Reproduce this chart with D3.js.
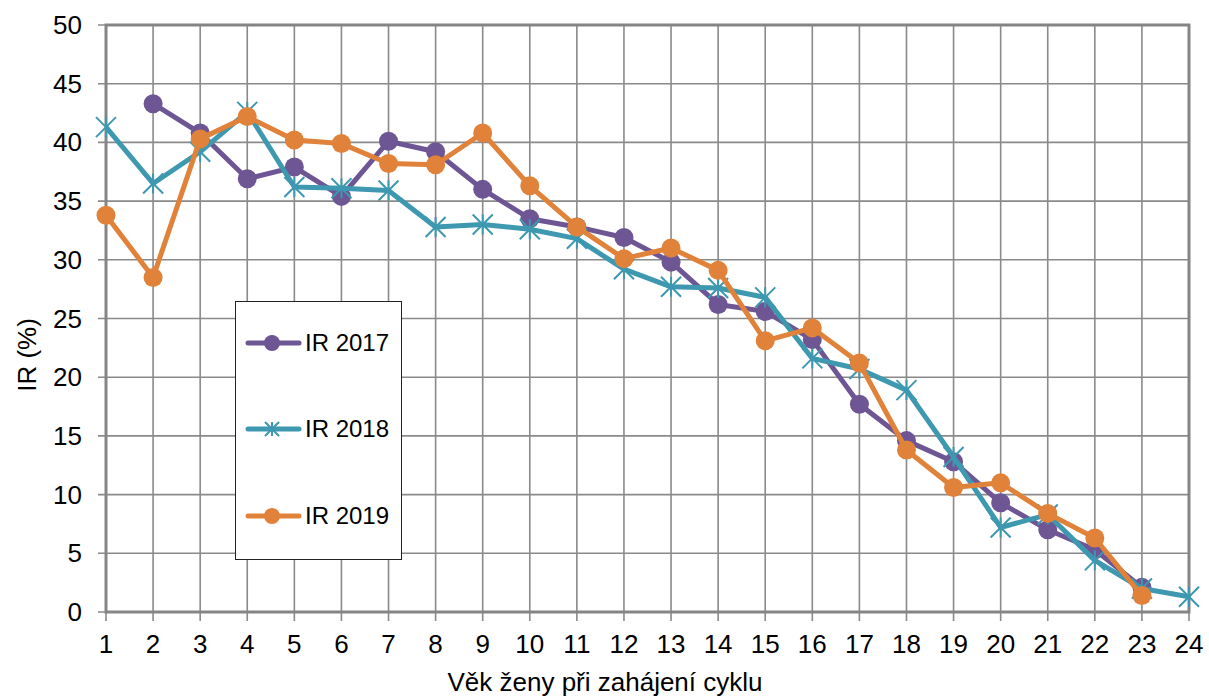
<!DOCTYPE html>
<html>
<head>
<meta charset="utf-8">
<script src="https://cdn.jsdelivr.net/npm/d3@7"></script>
<style>
body { margin: 0; background: #fff; }
text { font-family: "Liberation Sans", Arial, sans-serif; fill: #000; }
</style>
</head>
<body>
<div id="chart"></div>
<script>

// data
var ages = d3.range(1, 25)
var ir2017 = [null, 43.3, 40.8, 36.9, 37.9, 35.4, 40.1, 39.2, 36.0, 33.5, 32.8, 31.9, 29.8, 26.2, 25.6, 23.2, 17.7, 14.6, 12.8, 9.3, 7.0, 5.3, 2.1, null]
var ir2018 = [41.3, 36.5, 39.2, 42.6, 36.2, 36.1, 35.9, 32.8, 33.0, 32.6, 31.8, 29.2, 27.7, 27.6, 26.8, 21.6, 20.7, 18.9, 13.2, 7.2, 8.3, 4.4, 2.0, 1.3]
var ir2019 = [33.8, 28.5, 40.3, 42.2, 40.2, 39.9, 38.2, 38.1, 40.8, 36.3, 32.8, 30.1, 31.0, 29.1, 23.1, 24.2, 21.2, 13.8, 10.6, 11.0, 8.4, 6.3, 1.4, null]
var yTicks = d3.range(0, 51, 5)

var series = [
  {name: "IR 2017", values: ir2017, color: "#6e5594", marker: "circle"},
  {name: "IR 2018", values: ir2018, color: "#3d98b0", marker: "star"},
  {name: "IR 2019", values: ir2019, color: "#e0823a", marker: "circle"}
]

var width = 1209, height = 699
var margin = {top: 25, right: 20, bottom: 87, left: 106}

var svg = d3.select("#chart").append("svg")
  .attr("width", width)
  .attr("height", height)

var x = d3.scaleLinear().domain([1, 24]).range([margin.left, 1189])
var y = d3.scaleLinear().domain([0, 50]).range([612, margin.top])

var grid = svg.append("g")

// horizontal grid + y ticks
grid.selectAll(".hgrid").data(yTicks).enter().append("line")
  .attr("x1", x(1) - 8).attr("x2", x(24))
  .attr("y1", function(d){ return y(d) }).attr("y2", function(d){ return y(d) })
  .attr("stroke", "#8a8a8a").attr("stroke-width", 1.6)

// vertical grid + x ticks
grid.selectAll(".vgrid").data(ages).enter().append("line")
  .attr("x1", function(d){ return x(d) }).attr("x2", function(d){ return x(d) })
  .attr("y1", y(50)).attr("y2", y(0) + 9)
  .attr("stroke", "#8a8a8a").attr("stroke-width", 1.6)

// frame
grid.append("rect")
  .attr("x", x(1)).attr("y", y(50))
  .attr("width", x(24) - x(1)).attr("height", y(0) - y(50))
  .attr("fill", "none").attr("stroke", "#858585").attr("stroke-width", 3)

svg.selectAll(".ylab").data(yTicks).enter().append("text")
  .attr("x", 82).attr("y", function(d){ return y(d) + 9 })
  .attr("text-anchor", "end")
  .style("font-size", "26px")
  .text(function(d){ return d })

svg.selectAll(".xlab").data(ages).enter().append("text")
  .attr("x", function(d){ return x(d) }).attr("y", 653)
  .attr("text-anchor", "middle")
  .style("font-size", "26px")
  .text(function(d){ return d })

svg.append("text")
  .attr("x", 605).attr("y", 691)
  .attr("text-anchor", "middle")
  .style("font-size", "26px")
  .text("Věk ženy při zahájení cyklu")

svg.append("text")
  .attr("transform", "translate(36,355) rotate(-90)")
  .attr("text-anchor", "middle")
  .style("font-size", "26px")
  .text("IR (%)")

var line = d3.line()
  .defined(function(d){ return d != null })
  .x(function(d, i){ return x(ages[i]) })
  .y(function(d){ return y(d) })

function drawMarker(g, type, color, cx, cy) {
  if (type == "circle") {
    g.append("circle").attr("cx", cx).attr("cy", cy).attr("r", 9.5).attr("fill", color)
  } else {
    var s = 10
    var p = "M" + (cx - s) + "," + (cy - s) + "L" + (cx + s) + "," + (cy + s) +
      "M" + (cx - s) + "," + (cy + s) + "L" + (cx + s) + "," + (cy - s) +
      "M" + cx + "," + (cy - s) + "L" + cx + "," + (cy + s)
    g.append("path").attr("d", p).attr("stroke", color).attr("stroke-width", 2).attr("fill", "none")
  }
}

series.forEach(function(s) {
  var g = svg.append("g")
  g.append("path")
    .attr("d", line(s.values))
    .attr("fill", "none")
    .attr("stroke", s.color)
    .attr("stroke-width", 5)
    .attr("stroke-linejoin", "round")
  s.values.forEach(function(v, i) {
    if (v == null) return
    drawMarker(g, s.marker, s.color, x(ages[i]), y(v))
  })
})

// legend
var legend = svg.append("g")
legend.append("rect")
  .attr("x", 235.5).attr("y", 301.5).attr("width", 166).attr("height", 258)
  .attr("fill", "#fff").attr("stroke", "#222").attr("stroke-width", 1)

var legY = [343, 429, 516]
series.forEach(function(s, i) {
  legend.append("line")
    .attr("x1", 248).attr("x2", 299)
    .attr("y1", legY[i]).attr("y2", legY[i])
    .attr("stroke", s.color).attr("stroke-width", 5).attr("stroke-linecap", "round")
  if (s.marker == "circle") {
    legend.append("circle").attr("cx", 272).attr("cy", legY[i]).attr("r", 8).attr("fill", s.color)
  } else {
    var c = 272, r = 7, yy = legY[i]
    legend.append("path")
      .attr("d", "M" + (c - r) + "," + (yy - r) + "L" + (c + r) + "," + (yy + r) +
        "M" + (c - r) + "," + (yy + r) + "L" + (c + r) + "," + (yy - r) +
        "M" + c + "," + (yy - r) + "L" + c + "," + (yy + r))
      .attr("stroke", s.color).attr("stroke-width", 2)
  }
  legend.append("text")
    .attr("x", 305).attr("y", legY[i] + 8)
    .style("font-size", "24px")
    .text(s.name)
})

</script>
</body>
</html>
